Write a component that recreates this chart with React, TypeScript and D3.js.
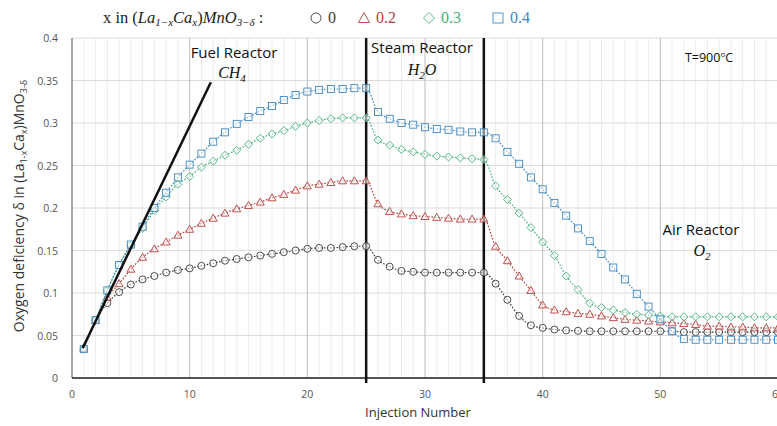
import React from 'react';
import * as d3 from 'd3';

// injection numbers 1..60
const injections = d3.range(1, 61);

const delta0 = [
  0.035, 0.068, 0.088, 0.101, 0.110, 0.116, 0.120, 0.124, 0.127, 0.129,
  0.132, 0.135, 0.138, 0.140, 0.142, 0.144, 0.146, 0.148, 0.150, 0.152,
  0.153, 0.153, 0.154, 0.155, 0.155, 0.139, 0.131, 0.126, 0.125, 0.124,
  0.124, 0.124, 0.124, 0.124, 0.124, 0.111, 0.092, 0.073, 0.062, 0.059,
  0.057, 0.056, 0.0555, 0.055, 0.055, 0.055, 0.055, 0.055, 0.055, 0.055,
  0.055, 0.054, 0.054, 0.054, 0.054, 0.054, 0.054, 0.054, 0.054, 0.054,
];
const delta02 = [
  0.035, 0.068, 0.095, 0.111, 0.128, 0.142, 0.152, 0.160, 0.168, 0.175,
  0.182, 0.188, 0.194, 0.199, 0.203, 0.207, 0.212, 0.216, 0.221, 0.226,
  0.228, 0.230, 0.232, 0.232, 0.232, 0.205, 0.196, 0.193, 0.191, 0.190,
  0.189, 0.188, 0.187, 0.187, 0.187, 0.155, 0.138, 0.120, 0.103, 0.086,
  0.080, 0.078, 0.076, 0.075, 0.073, 0.071, 0.069, 0.068, 0.067, 0.066,
  0.065, 0.064, 0.063, 0.061, 0.061, 0.060, 0.060, 0.059, 0.059, 0.059,
];
const delta03 = [
  0.035, 0.068, 0.103, 0.133, 0.156, 0.176, 0.197, 0.213, 0.228, 0.237,
  0.248, 0.255, 0.262, 0.268, 0.275, 0.282, 0.287, 0.291, 0.296, 0.300,
  0.303, 0.305, 0.306, 0.306, 0.306, 0.280, 0.274, 0.269, 0.266, 0.263,
  0.261, 0.260, 0.259, 0.258, 0.257, 0.226, 0.210, 0.194, 0.177, 0.160,
  0.144, 0.120, 0.104, 0.088, 0.083, 0.080, 0.077, 0.075, 0.074, 0.073,
  0.072, 0.072, 0.072, 0.072, 0.072, 0.072, 0.072, 0.072, 0.072, 0.072,
];
const delta04 = [
  0.034, 0.068, 0.103, 0.133, 0.157, 0.178, 0.200, 0.218, 0.236, 0.251,
  0.264, 0.278, 0.289, 0.299, 0.307, 0.314, 0.320, 0.327, 0.333, 0.337,
  0.339, 0.340, 0.340, 0.341, 0.341, 0.313, 0.305, 0.300, 0.298, 0.295,
  0.293, 0.292, 0.290, 0.289, 0.289, 0.282, 0.266, 0.252, 0.236, 0.222,
  0.206, 0.191, 0.176, 0.161, 0.146, 0.130, 0.116, 0.099, 0.084, 0.069,
  0.055, 0.046, 0.045, 0.045, 0.045, 0.045, 0.045, 0.045, 0.045, 0.045,
];

const seriesNames = ['0', '0.2', '0.3', '0.4'];
const seriesColors = ['#3b3b3b', '#b8403d', '#46b07a', '#3f87c2'];
const seriesShapes = ['circle', 'triangle', 'diamond', 'square'];
const seriesValues = [delta0, delta02, delta03, delta04];

// reactor switch points and fuel reactor slope line
const reactorSwitch = [25, 35];
const fuelLine: [number, number][] = [[0.9, 0.035], [11.8, 0.348]];

const xTicks = [0, 10, 20, 30, 40, 50, 60];
const yTicks = [0, 0.05, 0.1, 0.15, 0.2, 0.25, 0.3, 0.35, 0.4];

const sans = '"Open Sans", "Liberation Sans", sans-serif';
const serif = '"Liberation Serif", "DejaVu Serif", serif';

const x = d3.scaleLinear().domain([0, 60]).range([72, 778]);
const y = d3.scaleLinear().domain([0, 0.4]).range([378, 38]);

function Marker({ shape, cx, cy, color, s = 3.5 }: any) {
  const common = { fill: 'white', fillOpacity: 0.5, stroke: color, strokeWidth: 0.9 };
  if (shape === 'circle') return <circle cx={cx} cy={cy} r={s} {...common} />;
  if (shape === 'square') return <rect x={cx - s} y={cy - s} width={2 * s} height={2 * s} {...common} />;
  if (shape === 'diamond')
    return <path d={`M${cx},${cy - s - 0.5}L${cx + s + 0.5},${cy}L${cx},${cy + s + 0.5}L${cx - s - 0.5},${cy}Z`} {...common} />;
  return <path d={`M${cx},${cy - s - 0.5}L${cx + s + 0.5},${cy + s - 0.5}L${cx - s - 0.5},${cy + s - 0.5}Z`} {...common} />;
}

export default function App() {
  const line = d3.line<number>()
    .x((_, i) => x(injections[i]))
    .y(d => y(d))
    .curve(d3.curveMonotoneX);

  return (
    <svg width={777} height={426} style={{ position: 'absolute', left: 0, top: 0, background: 'white' }}>
      {/* minor vertical grid */}
      {d3.range(1, 61).filter(v => v % 10 !== 0).map(v => (
        <line key={'mv' + v} x1={x(v)} x2={x(v)} y1={y(0.4)} y2={y(0)} stroke="#ececec" strokeWidth={1} />
      ))}
      {/* horizontal grid */}
      {yTicks.map(v => (
        <line key={'h' + v} x1={x(0)} x2={777} y1={y(v)} y2={y(v)} stroke="#dcdcdc" strokeWidth={1} />
      ))}
      {/* major vertical grid */}
      {xTicks.filter(v => v > 0).map(v => (
        <line key={'v' + v} x1={x(v)} x2={x(v)} y1={y(0.4)} y2={y(0)} stroke="#bdbdbd" strokeWidth={1} />
      ))}

      {/* axes */}
      <line x1={x(0)} x2={x(0)} y1={y(0.4)} y2={y(0)} stroke="#8a8a8a" strokeWidth={1.5} />
      <line x1={x(0)} x2={777} y1={y(0)} y2={y(0)} stroke="#222" strokeWidth={1.5} />

      {yTicks.map(v => (
        <text key={'yt' + v} x={58} y={y(v) + 4} textAnchor="end" fontFamily={sans} fontSize={10.5} fill="#555">
          {v === 0 ? '0' : String(v)}
        </text>
      ))}
      {xTicks.map(v => (
        <text key={'xt' + v} x={x(v)} y={398} textAnchor="middle" fontFamily={sans} fontSize={10.5} fill="#555">
          {v}
        </text>
      ))}

      {/* reactor switch lines */}
      {reactorSwitch.map(v => (
        <line key={'rs' + v} x1={x(v)} x2={x(v)} y1={y(0.4)} y2={383} stroke="#111" strokeWidth={2.5} />
      ))}

      {/* series */}
      {seriesValues.map((vals, si) => (
        <g key={'s' + si}>
          <path d={line(vals) || ''} fill="none" stroke={seriesColors[si]} strokeWidth={1.2} strokeDasharray="1.6,1.6" />
          {vals.map((v, i) => (
            <Marker key={i} shape={seriesShapes[si]} cx={x(injections[i])} cy={y(v)} color={seriesColors[si]} />
          ))}
        </g>
      ))}

      {/* fuel reactor trend */}
      <line x1={x(fuelLine[0][0])} y1={y(fuelLine[0][1])} x2={x(fuelLine[1][0])} y2={y(fuelLine[1][1])}
        stroke="#111" strokeWidth={2.5} />

      {/* annotations */}
      <text x={234} y={58} textAnchor="middle" fontFamily={sans} fontSize={15} fill="#111">Fuel Reactor</text>
      <text x={232} y={78} textAnchor="middle" fontFamily={serif} fontStyle="italic" fontSize={16} fill="#111">
        CH<tspan fontSize={11} dy={4}>4</tspan>
      </text>
      <text x={422} y={53} textAnchor="middle" fontFamily={sans} fontSize={15} fill="#111">Steam Reactor</text>
      <text x={422} y={75} textAnchor="middle" fontFamily={serif} fontStyle="italic" fontSize={16} fill="#111">
        H<tspan fontSize={11} dy={4}>2</tspan><tspan dy={-4}>O</tspan>
      </text>
      <text x={701} y={235} textAnchor="middle" fontFamily={sans} fontSize={15} fill="#111">Air Reactor</text>
      <text x={702} y={256} textAnchor="middle" fontFamily={serif} fontStyle="italic" fontSize={16} fill="#111">
        O<tspan fontSize={11} dy={4}>2</tspan>
      </text>
      <text x={709} y={62} textAnchor="middle" fontFamily={sans} fontSize={12.5} fill="#111">
        T=900<tspan fontSize={8} dy={-5}>o</tspan><tspan dy={5}>C</tspan>
      </text>

      {/* legend */}
      <text x={103} y={23} fontFamily={serif} fontSize={16.5} fill="#222">
        x in (<tspan fontStyle="italic">La</tspan><tspan fontStyle="italic" fontSize={11} dy={3}>1−x</tspan>
        <tspan fontStyle="italic" dy={-3}>Ca</tspan><tspan fontStyle="italic" fontSize={11} dy={3}>x</tspan>
        <tspan dy={-3}>)</tspan><tspan fontStyle="italic">MnO</tspan>
        <tspan fontStyle="italic" fontSize={11} dy={3}>3−δ</tspan><tspan dy={-3}> :</tspan>
      </text>
      {seriesNames.map((n, si) => {
        const lx = [316, 364, 429, 498][si];
        return (
          <g key={'lg' + si}>
            <Marker shape={seriesShapes[si]} cx={lx} cy={18} color={seriesColors[si]} s={5} />
            <text x={lx + 12} y={23} fontFamily={serif} fontSize={16} fill={seriesColors[si]}>{n}</text>
          </g>
        );
      })}

      {/* axis titles */}
      <text x={418} y={417} textAnchor="middle" fontFamily={sans} fontSize={13} fill="#333">Injection Number</text>
      <text transform="translate(24,206) rotate(-90)" textAnchor="middle" fontFamily={sans} fontSize={14} fill="#333">
        Oxygen deficiency δ in (La<tspan fontSize={9} dy={3}>1-x</tspan><tspan dy={-3}>Ca</tspan>
        <tspan fontSize={9} dy={3}>x</tspan><tspan dy={-3}>)MnO</tspan><tspan fontSize={9} dy={3}>3-δ</tspan>
      </text>
    </svg>
  );
}
